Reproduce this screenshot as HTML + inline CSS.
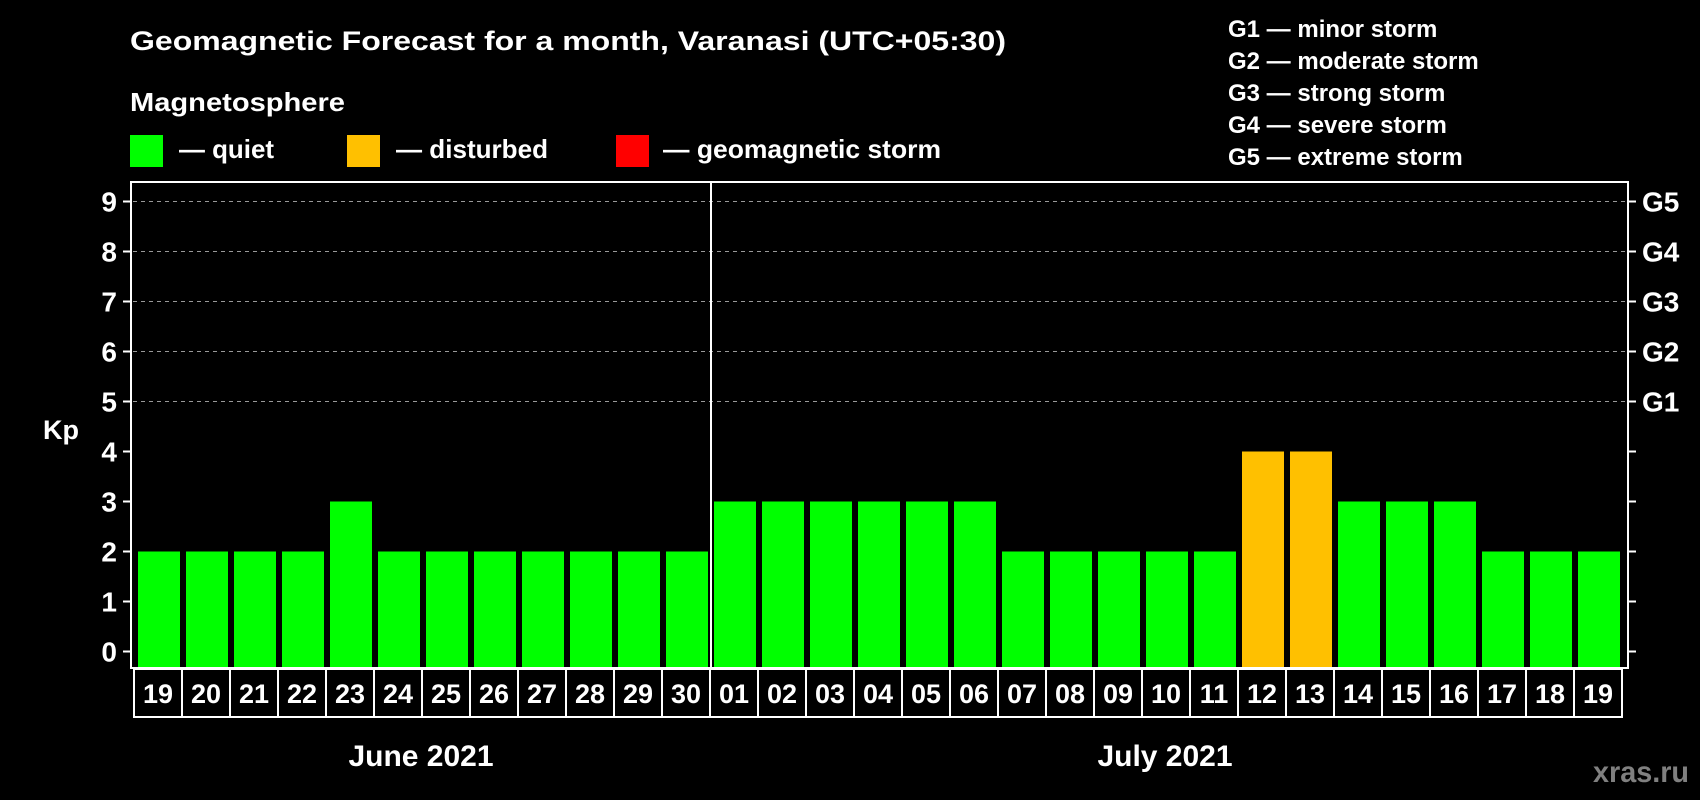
<!DOCTYPE html>
<html><head><meta charset="utf-8"><style>
html,body{margin:0;padding:0;background:#000;}
svg{display:block;font-family:"Liberation Sans",Arial,sans-serif;font-weight:bold;}
</style></head><body>
<svg id="chart" width="1700" height="800" viewBox="0 0 1700 800" xmlns="http://www.w3.org/2000/svg">
<rect x="0" y="0" width="1700" height="800" fill="#000"/>
<text x="130" y="50" fill="#fff" font-size="27" textLength="876" lengthAdjust="spacingAndGlyphs">Geomagnetic Forecast for a month, Varanasi (UTC+05:30)</text>
<text x="130" y="111" fill="#fff" font-size="26" textLength="215" lengthAdjust="spacingAndGlyphs">Magnetosphere</text>
<g>
<rect x="130" y="135" width="33" height="32" fill="#00ff00"/>
<text x="179" y="158" fill="#fff" font-size="26" textLength="95" lengthAdjust="spacingAndGlyphs">— quiet</text>
</g>
<g>
<rect x="347" y="135" width="33" height="32" fill="#ffc000"/>
<text x="396" y="158" fill="#fff" font-size="26" textLength="152" lengthAdjust="spacingAndGlyphs">— disturbed</text>
</g>
<g>
<rect x="616" y="135" width="33" height="32" fill="#ff0000"/>
<text x="663" y="158" fill="#fff" font-size="26" textLength="278" lengthAdjust="spacingAndGlyphs">— geomagnetic storm</text>
</g>
<g font-size="24" fill="#fff">
<text x="1228" y="37">G1 — minor storm</text>
<text x="1228" y="69">G2 — moderate storm</text>
<text x="1228" y="101">G3 — strong storm</text>
<text x="1228" y="133">G4 — severe storm</text>
<text x="1228" y="165">G5 — extreme storm</text>
</g>
<text x="43" y="439" fill="#fff" font-size="27">Kp</text>
<g id="grid"></g>
<g id="bars"></g>
<g id="axes"></g>
<g id="dates"></g>
<text x="421" y="766" fill="#fff" font-size="30" text-anchor="middle">June 2021</text>
<text x="1165" y="766" fill="#fff" font-size="30" text-anchor="middle">July 2021</text>
<text x="1593" y="782" fill="#808080" font-size="30" textLength="96" lengthAdjust="spacingAndGlyphs">xras.ru</text>
</svg>
<script>
const days = ["19","20","21","22","23","24","25","26","27","28","29","30","01","02","03","04","05","06","07","08","09","10","11","12","13","14","15","16","17","18","19"];
const kpValues = [2,2,2,2,3,2,2,2,2,2,2,2,3,3,3,3,3,3,2,2,2,2,2,4,4,3,3,3,2,2,2];
const yTicks = [0,1,2,3,4,5,6,7,8,9];
const gLabels = ["G1","G2","G3","G4","G5"];
const gLevels = [5,6,7,8,9];

const NS = "http://www.w3.org/2000/svg";
const plotL = 131, plotR = 1628, plotT = 182, plotB = 668;
const slot = 48, x0 = 138, barW = 42;
function yScale(v){ return 651.5 - 50 * v; }
function xScale(i){ return x0 + i * slot; }
function mk(tag, attrs, parent){ const e = document.createElementNS(NS, tag); for (const k in attrs) e.setAttribute(k, attrs[k]); parent.appendChild(e); return e; }
function colorFor(v){ return v >= 5 ? "#ff0000" : (v >= 4 ? "#ffc000" : "#00ff00"); }

const grid = document.getElementById("grid");
gLevels.forEach(function(v){
  const l = mk("line", {x1: plotL+2, x2: plotR-2, y1: yScale(v), y2: yScale(v), stroke: "#999", "stroke-width": 1, "stroke-dasharray": "4,4"}, grid);
  
  
});

const bars = document.getElementById("bars");
kpValues.forEach(function(v, i){
  const r = mk("rect", {x: xScale(i), y: yScale(v), width: barW, height: plotB - yScale(v), fill: colorFor(v)}, bars);
  
  
});

const axes = document.getElementById("axes");
const box = mk("rect", {x: plotL, y: plotT, width: plotR - plotL, height: plotB - plotT, fill: "none", stroke: "#fff", "stroke-width": 2}, axes);


const divX = xScale(12) - 3;
const div = mk("line", {x1: divX, x2: divX, y1: plotT, y2: plotB, stroke: "#fff", "stroke-width": 2}, axes);


yTicks.forEach(function(v){
  const y = yScale(v);
  mk("line", {x1: plotL - 8, x2: plotL, y1: y, y2: y, stroke: "#fff", "stroke-width": 2}, axes);
  mk("line", {x1: plotR, x2: plotR + 8, y1: y, y2: y, stroke: "#fff", "stroke-width": 2}, axes);
  const t = mk("text", {x: 117, y: y + 10, fill: "#fff", "font-size": 28, "text-anchor": "end"}, axes);
  t.textContent = v;
  
  
});
gLabels.forEach(function(g, i){
  const t = mk("text", {x: 1642, y: yScale(gLevels[i]) + 10, fill: "#fff", "font-size": 28}, axes);
  t.textContent = g;
  
  
});

const dates = document.getElementById("dates");
days.forEach(function(d, i){
  const bx = xScale(i) - 4;
  const r = mk("rect", {x: bx, y: 669, width: slot, height: 48, fill: "#000", stroke: "#fff", "stroke-width": 2}, dates);
  
  
  const t = mk("text", {x: bx + slot/2, y: 703, fill: "#fff", "font-size": 27, "text-anchor": "middle"}, dates);
  t.textContent = d;
  
  
});
</script>
</body></html>
